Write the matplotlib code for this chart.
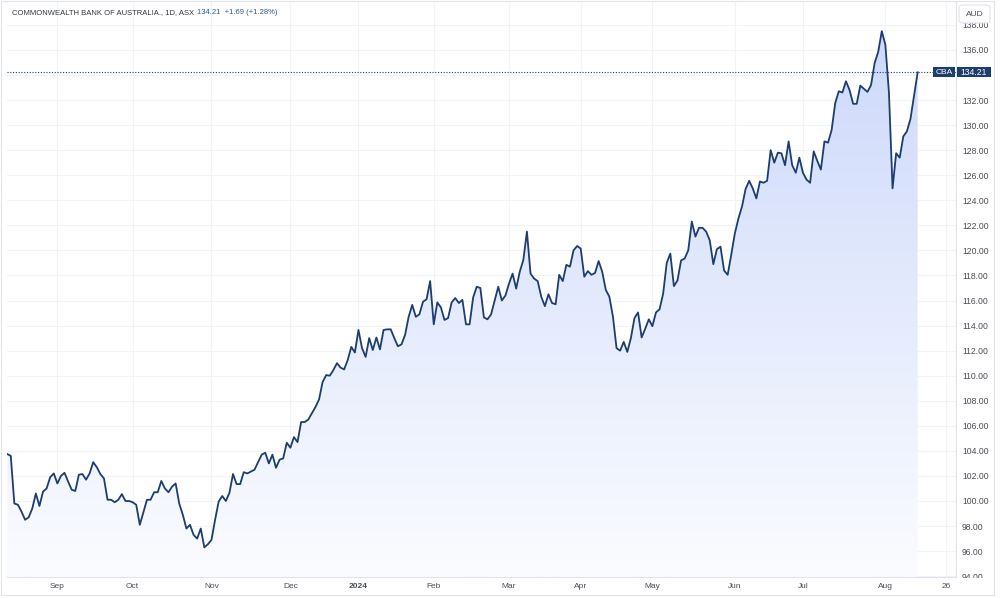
import numpy as np
import pandas as pd
import matplotlib
matplotlib.use('Agg')
import matplotlib.pyplot as plt
from matplotlib.patches import Rectangle, FancyBboxPatch
from matplotlib.colors import LinearSegmentedColormap
from matplotlib import transforms

plt.rcParams['font.family'] = ['Liberation Sans', 'DejaVu Sans']

# daily closes (AUD)
closes = [
    103.75, 103.6, 99.8, 99.7, 99.15, 98.5, 98.7, 99.4, 100.6, 99.6,
    100.75, 101.0, 101.9, 102.2, 101.4, 102.0, 102.25, 101.55, 100.9, 100.8,
    102.1, 102.15, 101.7, 102.2, 103.1, 102.7, 102.15, 101.8, 100.1, 100.1,
    99.9, 100.1, 100.55, 100.0, 100.0, 99.9, 99.7, 98.1, 99.1, 100.1,
    100.1, 100.7, 100.7, 101.6, 101.0, 100.7, 101.15, 101.4, 99.8, 98.9,
    97.8, 98.1, 97.3, 97.0, 97.8,
    96.3, 96.55, 96.9, 98.5, 99.95, 100.4, 100.0, 100.65, 102.15, 101.35,
    101.35, 102.3, 102.2, 102.35, 102.5, 103.1, 103.7, 103.85, 103.0, 103.7,
    102.65, 103.3, 103.4, 104.65, 104.25, 105.1, 104.7, 106.3, 106.3, 106.5,
    107.0, 107.5, 108.1, 109.5, 110.05, 110.0, 110.45, 111.0, 110.65, 110.5,
    111.25, 112.3, 111.85, 113.65, 112.2, 111.5, 113.0, 112.05, 113.05, 112.1,
    113.65, 113.7, 113.7, 113.0, 112.35, 112.5, 113.25, 114.7, 115.65, 114.7,
    114.9, 115.9, 116.1, 117.55, 114.1, 115.85, 115.45, 114.45, 114.6, 115.85,
    116.2, 115.8, 116.05, 114.1, 114.1, 116.25, 117.1, 117.0, 114.65, 114.5,
    114.9, 116.0, 117.1, 116.0, 116.4, 117.35, 118.15, 116.95, 118.3, 119.25,
    121.5, 118.15, 117.75, 117.55, 116.3, 115.55, 116.5, 115.8, 115.7, 118.05,
    117.55, 118.85, 118.7,
    120.0, 120.35, 120.15, 117.9, 118.35, 118.05, 118.2, 119.15, 118.3, 116.85,
    116.3, 114.7, 112.2, 112.0, 112.7, 111.9, 113.0, 114.6, 115.05, 113.05,
    113.75, 114.5, 113.95, 115.05, 115.3, 116.55, 119.0, 119.75, 117.15, 117.6,
    119.2, 119.35, 120.0, 122.3, 121.1, 121.8, 121.8, 121.5, 120.8, 118.9,
    120.1, 120.3, 118.4, 118.05, 119.65, 121.35, 122.55, 123.5, 124.9, 125.55,
    124.95, 124.15, 125.5, 125.4, 125.55,
    128.0, 127.0, 127.8, 127.75, 126.8, 128.7, 126.8, 126.2, 127.4, 126.2,
    125.65, 125.4, 127.9, 127.15, 126.45, 128.7, 128.6, 129.6, 131.75, 132.7,
    132.6, 133.5, 132.8, 131.7, 131.7, 133.15, 132.9, 132.65, 133.2, 134.95,
    135.85, 137.5, 136.4, 132.55, 124.95, 127.75, 127.4, 129.1, 129.5, 130.5,
    132.35, 134.21,
]
holidays = ['2023-12-25', '2023-12-26', '2024-01-01', '2024-01-26',
            '2024-03-29', '2024-04-01', '2024-04-25', '2024-06-10']
start_date = '2023-08-14'
last_price = 134.21
change = 1.69
change_pct = 1.28
ticker = 'CBA'
title_text = 'COMMONWEALTH BANK OF AUSTRALIA., 1D, ASX'
y_ticks = np.arange(94, 139, 2)

line_col = '#1c3d6e'
grid_col = '#f0f3fa'
border_col = '#e0e3eb'
text_col = '#4a4d57'

W, H = 1000, 598
def fx(px):
    return px / W
def fy(py):
    return 1 - py / H

days = pd.bdate_range(start=start_date, periods=len(closes) + 12, freq='C', holidays=holidays)
x = np.arange(len(closes))

# month ticks: first trading day of each month, plus the 26th of Aug
tick_pos, tick_lab = [], []
for (yr, mo) in [(2023, 9), (2023, 10), (2023, 11), (2023, 12), (2024, 1), (2024, 2),
                 (2024, 3), (2024, 4), (2024, 5), (2024, 6), (2024, 7), (2024, 8)]:
    i = np.where((days.year == yr) & (days.month == mo))[0][0]
    tick_pos.append(i)
    tick_lab.append('2024' if mo == 1 else days[i].strftime('%b'))
i26 = np.where(days == pd.Timestamp('2024-08-26'))[0][0]
tick_pos.append(i26)
tick_lab.append('26')

fig = plt.figure(figsize=(10, 5.98), dpi=100)
ax_l, ax_r, ax_t, ax_b = 7, 956, 2, 577
ax = fig.add_axes([fx(ax_l), fy(ax_b), fx(ax_r - ax_l), (ax_b - ax_t) / H])

px_per_unit = 12.53
ymin = 100 - (ax_b - 501) / px_per_unit
ymax = 100 + (501 - ax_t) / px_per_unit
xmin = -0.05
xmax = 264.7

# gradient fill under the line
cmap = LinearSegmentedColormap.from_list('area', ['#fbfcff', '#cdd9fb'])
grad = np.linspace(0, 1, 256).reshape(-1, 1)
im = ax.imshow(grad, extent=[xmin, x[-1], ymin, max(closes)], origin='lower',
               aspect='auto', cmap=cmap, zorder=1)
poly = ax.fill_between(x, closes, ymin, facecolor='none', edgecolor='none')
im.set_clip_path(poly.get_paths()[0], transform=ax.transData)

ax.plot(x, closes, color=line_col, lw=1.3, zorder=3, solid_joinstyle='round')
ax.axhline(last_price, color=line_col, lw=0.8, ls=(0, (1, 1.5)), zorder=2)

ax.set_xlim(xmin, xmax)
ax.set_ylim(ymin, ymax)

ax.set_xticks(tick_pos)
ax.set_xticklabels(tick_lab)
for t in ax.get_xticklabels():
    if t.get_text() == '2024':
        t.set_fontweight('bold')
ax.set_yticks(y_ticks)
ax.set_yticklabels(['' if abs(v - 134) < 0.01 else f'{v:.2f}' for v in y_ticks])
ax.yaxis.tick_right()
ax.tick_params(axis='y', length=0, pad=4.3, labelsize=6.2, colors=text_col)
ax.tick_params(axis='x', length=0, pad=4.5, labelsize=6.0, colors=text_col)
ax.grid(True, color=grid_col, lw=0.8, zorder=0)
ax.set_axisbelow(True)
for s in ['top', 'left']:
    ax.spines[s].set_visible(False)
for s in ['right', 'bottom']:
    ax.spines[s].set_color(border_col)
    ax.spines[s].set_linewidth(0.8)

# title line
fig.text(fx(12), fy(13), title_text, fontsize=5.5, color='#333640', va='center', ha='left')
fig.text(fx(197), fy(13), f'{last_price:.2f}  +{change:.2f} (+{change_pct:.2f}%)',
         fontsize=5.5, color='#2b5a93', va='center', ha='left')

# cover the lower half of the 94.00 label below the axis line
fig.add_artist(Rectangle((fx(957), 0), fx(36), fy(578), transform=fig.transFigure,
                         facecolor='white', edgecolor='none', zorder=5))

# AUD box
fig.add_artist(FancyBboxPatch((fx(959), fy(23)), fx(31), 18 / H,
                              boxstyle='round,pad=0,rounding_size=0.004',
                              transform=fig.transFigure, facecolor='white',
                              edgecolor=border_col, lw=0.8, zorder=6))
fig.text(fx(974.5), fy(14), 'AUD', fontsize=6, color=text_col, ha='center', va='center', zorder=7)

# last price labels
bt = transforms.blended_transform_factory(fig.transFigure, ax.transData)
bh = 10 / px_per_unit
fig.add_artist(Rectangle((fx(933), last_price - bh / 2), fx(22), bh, transform=bt,
                         facecolor=line_col, edgecolor='none', zorder=6, clip_on=False))
fig.add_artist(Rectangle((fx(957), last_price - bh / 2), fx(34), bh, transform=bt,
                         facecolor=line_col, edgecolor='none', zorder=6, clip_on=False))
fig.text(fx(944), last_price, ticker, transform=bt, fontsize=6, color='white',
         ha='center', va='center', zorder=7)
fig.text(fx(974), last_price, f'{last_price:.2f}', transform=bt, fontsize=6.2,
         color='white', ha='center', va='center', zorder=7)

# outer border
fig.add_artist(Rectangle((fx(0.5), fy(595)), fx(993), 594 / H, transform=fig.transFigure,
                         facecolor='none', edgecolor=border_col, lw=0.8, zorder=8))

fig.savefig('out.png', dpi=100)
